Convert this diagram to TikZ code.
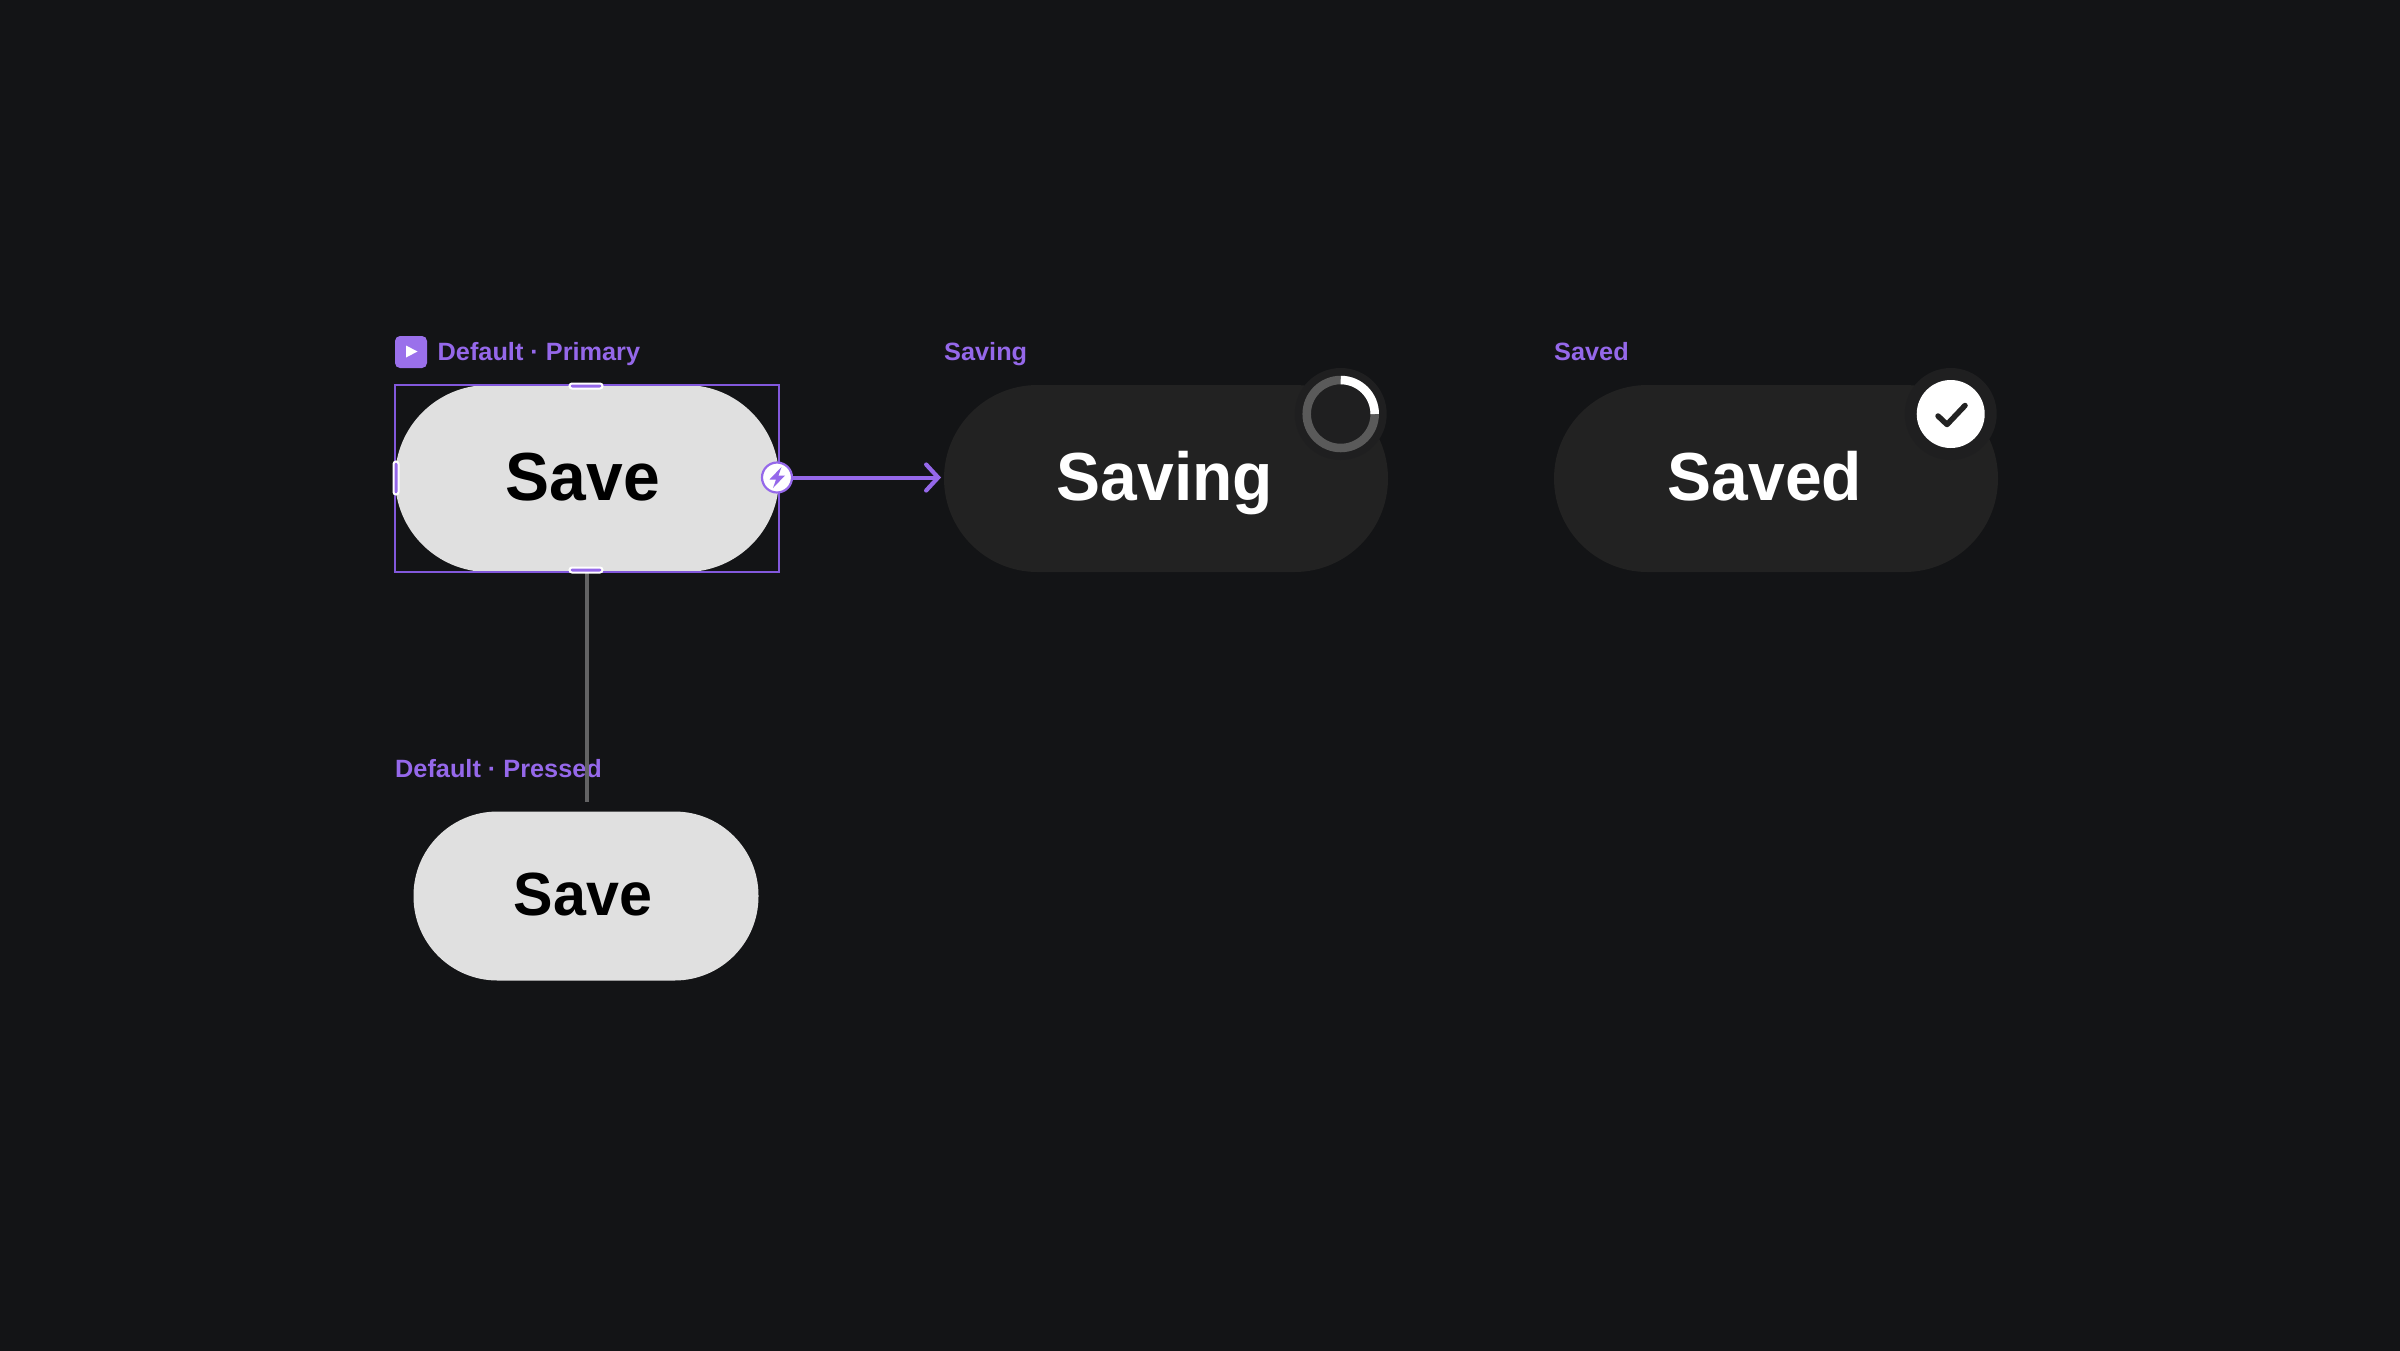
\documentclass[tikz,border=0pt]{standalone}
\usepackage{fontspec}
\usetikzlibrary{arrows.meta,calc}
\setmainfont{Liberation Sans}
\newfontfamily\semifont[FakeStretch=0.97]{Liberation Sans Bold}
\newfontfamily\labelfont[FakeStretch=1.012]{Liberation Sans Bold}
\definecolor{bgdark}{HTML}{131416}
\definecolor{pilldark}{HTML}{222222}
\definecolor{halo}{HTML}{1F1F20}
\definecolor{pilllight}{HTML}{E0E0E0}
\definecolor{violet}{HTML}{9568EA}
\definecolor{violetline}{HTML}{8258DC}
\definecolor{greyline}{HTML}{636364}
\definecolor{ringgrey}{HTML}{5A5A5A}
\tikzset{
  x=1pt,y=-1pt,
  pill/.style={inner sep=0pt,outer sep=0pt,rounded corners=#1},
  bigpill/.style={pill=93.5pt,minimum width=384pt,minimum height=187pt},
  darkpill/.style={bigpill,minimum width=444pt,fill=pilldark},
  pillword/.style={inner sep=0pt,anchor=base,font=\semifont\fontsize{68}{68}\selectfont},
  caption/.style={inner sep=0pt,anchor=base west,text=violet,font=\labelfont\fontsize{25}{26}\selectfont},
  handle/.style={fill=violet,draw=white,line width=2pt,rounded corners=2.5pt,inner sep=0pt,outer sep=0pt},
}
\begin{document}
\begin{tikzpicture}
\useasboundingbox (0,0) rectangle (2400,1350);
\fill[bgdark] (-6,-6) rectangle (2406,1356);

% captions
\node[fill=violet!95!white,rounded corners=5pt,minimum width=32pt,minimum height=32pt,inner sep=0pt] (icon) at (411,352) {};
\fill[white] (406,345.5) -- (417.5,351.5) -- (406,357.5) -- cycle;
\node[caption] (capA) at (437.5,360) {Default · Primary};
\node[caption] (capB) at (944,360) {Saving};
\node[caption] (capC) at (1554,360) {Saved};
\node[caption] (capD) at (395,777) {Default · Pressed};

% pills
\node[bigpill,fill=pilllight] (save) at (587,478.5) {};
\node[darkpill] (saving) at (1166,478.5) {};
\node[darkpill] (saved) at (1776,478.5) {};
\node[pill=84pt,fill=pilllight,minimum width=345pt,minimum height=169pt] (pressed) at (586,896) {};

% words
\node[pillword,text=black] (t1) at (583,500) {Save};
\node[pillword,text=white] (t2) at (1165,500) {Saving};
\node[pillword,text=white] (t3) at (1765,500) {Saved};
\node[pillword,text=black,font=\semifont\fontsize{61}{61}\selectfont] (t4) at (583,915) {Save};

% selection frame
\node[draw=violetline,line width=2.8pt,minimum width=384pt,minimum height=187pt,inner sep=0pt,outer sep=0pt] (sel) at (587,478.5) {};

% grey connector
\coordinate (lineend) at (586.5,802);
\draw[greyline,line width=4pt] (sel.south -| lineend) -- (lineend);

% handles
\node[handle,minimum width=33pt,minimum height=5pt] (htop) at (586,386) {};
\node[handle,minimum width=33pt,minimum height=5pt] (hbot) at (586,570) {};
\node[handle,minimum width=5pt,minimum height=33pt] (hleft) at (396,478) {};

% bolt port
\node[circle,fill=white,draw=violet,line width=2.2pt,minimum size=30pt,inner sep=0pt,outer sep=0pt] (bolt) at (777,477.5) {};
\fill[violet] (781.5,467) -- (769.5,479.5) -- (776,479.5) -- (773,488) -- (785,475.5) -- (778.5,475.5) -- cycle;

% arrow
\draw[violet,line width=4pt,shorten >=3pt,-{Straight Barb[length=12pt,width=26pt,line cap=round,line width=4.2pt]}] (bolt) -- (bolt -| saving.west);

% spinner
\node[circle,fill=halo,minimum size=92pt,inner sep=0pt] (spin) at (1340.7,414) {};
\draw[ringgrey,line width=8.5pt] (spin) circle (34pt);
\draw[white,line width=8.5pt] ($(spin)+(0,-34)$) arc[start angle=90,end angle=0,radius=34pt];

% check
\node[circle,fill=halo,minimum size=92pt,inner sep=0pt] (checkhalo) at (1950.7,414) {};
\node[circle,fill=white,minimum size=68pt,inner sep=0pt] (check) at (1950.7,414) {};
\draw[pilldark,line width=5.5pt,line cap=round,line join=round] (1938,416) -- (1947,424.5) -- (1965,405.5);
\end{tikzpicture}
\end{document}
